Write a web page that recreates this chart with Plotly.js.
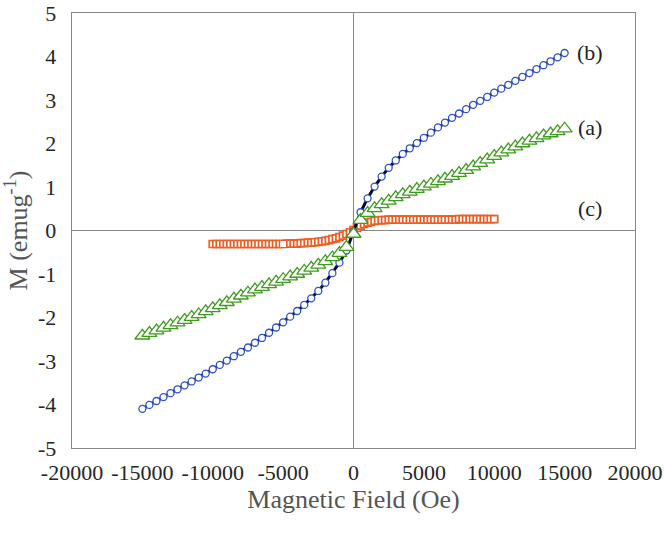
<!DOCTYPE html>
<html>
<head>
<meta charset="utf-8">
<script src="https://cdn.plot.ly/plotly-3.0.1.min.js"></script>
<style>html,body{margin:0;padding:0;background:#fff;}#chart{width:665px;height:534px;}</style>
</head>
<body>
<div id="chart"></div>
<script>
// Magnetic field (Oe) grid for samples (a) and (b)
const fieldAB = [-15000,-14500,-14000,-13500,-13000,-12500,-12000,-11500,-11000,-10500,-10000,-9500,-9000,-8500,-8000,-7500,-7000,-6500,-6000,-5500,-5000,-4500,-4000,-3500,-3000,-2500,-2000,-1500,-1000,-500,0,500,1000,1500,2000,2500,3000,3500,4000,4500,5000,5500,6000,6500,7000,7500,8000,8500,9000,9500,10000,10500,11000,11500,12000,12500,13000,13500,14000,14500,15000];
// Sample (b): blue circles
const magB = [-4.10,-4.01,-3.92,-3.83,-3.74,-3.65,-3.56,-3.47,-3.38,-3.29,-3.19,-3.09,-2.99,-2.89,-2.79,-2.69,-2.58,-2.47,-2.35,-2.23,-2.11,-1.98,-1.85,-1.71,-1.56,-1.39,-1.20,-0.98,-0.74,-0.46,-0.02,0.42,0.74,1.01,1.24,1.44,1.61,1.76,1.89,2.01,2.13,2.25,2.37,2.48,2.59,2.69,2.79,2.89,2.98,3.07,3.17,3.26,3.35,3.44,3.53,3.62,3.71,3.80,3.89,3.98,4.08];
// Sample (a): green triangles
const magA = [-2.42,-2.36,-2.30,-2.24,-2.18,-2.12,-2.06,-1.99,-1.93,-1.86,-1.79,-1.72,-1.65,-1.57,-1.50,-1.43,-1.36,-1.30,-1.24,-1.18,-1.12,-1.06,-1.00,-0.93,-0.86,-0.79,-0.71,-0.62,-0.52,-0.38,-0.08,0.24,0.40,0.51,0.60,0.68,0.76,0.83,0.89,0.95,1.01,1.07,1.13,1.19,1.25,1.32,1.39,1.47,1.55,1.63,1.71,1.79,1.86,1.93,2.00,2.06,2.12,2.18,2.23,2.28,2.34];
// Sample (c): orange squares
const fieldC = [-10000,-9750,-9500,-9250,-9000,-8750,-8500,-8250,-8000,-7750,-7500,-7250,-7000,-6750,-6500,-6250,-6000,-5750,-5500,-5250,-5000,-4750,-4500,-4250,-4000,-3750,-3500,-3250,-3000,-2750,-2500,-2250,-2000,-1750,-1500,-1250,-1000,-750,-500,-250,0,250,500,750,1000,1250,1500,1750,2000,2250,2500,2750,3000,3250,3500,3750,4000,4250,4500,4750,5000,5250,5500,5750,6000,6250,6500,6750,7000,7250,7500,7750,8000,8250,8500,8750,9000,9250,9500,9750,10000];
const magC = [-0.31,-0.31,-0.31,-0.31,-0.31,-0.31,-0.31,-0.31,-0.31,-0.31,-0.31,-0.31,-0.31,-0.31,-0.31,-0.31,-0.31,-0.31,-0.31,-0.31,-0.31,-0.30,-0.30,-0.30,-0.30,-0.29,-0.29,-0.28,-0.28,-0.27,-0.26,-0.25,-0.24,-0.22,-0.20,-0.18,-0.15,-0.12,-0.08,-0.04,0.01,0.06,0.11,0.15,0.18,0.20,0.22,0.23,0.24,0.24,0.25,0.25,0.25,0.25,0.25,0.25,0.25,0.25,0.25,0.25,0.25,0.25,0.25,0.25,0.25,0.25,0.25,0.25,0.25,0.25,0.26,0.26,0.26,0.26,0.26,0.26,0.26,0.26,0.26,0.26,0.26];
const highlightIndexC = 20; // the one open square near -5000 Oe
// Tick labels (plain hyphen minus as in the original)
const xTickVals = [-20000,-15000,-10000,-5000,0,5000,10000,15000,20000];
const xTickText = ['-20000','-15000','-10000','-5000','0','5000','10000','15000','20000'];
const yTickVals = [-5,-4,-3,-2,-1,0,1,2,3,4,5];
const yTickText = ['-5','-4','-3','-2','-1','0','1','2','3','4','5'];
const labelText = ['(b)','(a)','(c)'];
const labelY = [4.1,2.37,0.5];

const serif = 'Liberation Serif, Times New Roman, serif';
const traces = [
  {x: fieldC, y: magC, mode: 'markers', type: 'scatter',
   marker: {symbol: 'square', size: 7, color: '#ffffff', line: {color: '#EE5E22', width: 1.7}}},
  {x: [fieldC[highlightIndexC]], y: [magC[highlightIndexC]], mode: 'markers', type: 'scatter',
   marker: {symbol: 'square', size: 7, color: '#ffffff', line: {color: '#EE5E22', width: 1.2}}},
  {x: fieldAB, y: magB, mode: 'lines+markers', type: 'scatter',
   line: {color: '#0a0a30', width: 3},
   marker: {symbol: 'circle', size: 7, color: '#ffffff', line: {color: '#2F52C9', width: 1.3}}},
  {x: fieldAB, y: magA, mode: 'markers', type: 'scatter',
   marker: {symbol: 'triangle-up', size: 13, color: '#ffffff', line: {color: '#3E9C1E', width: 1.3}}}
];
const annotations = labelText.map((t, i) => ({
  x: 16800, y: labelY[i], xref: 'x', yref: 'y', text: t, showarrow: false,
  font: {family: serif, size: 22, color: '#222'}
}));
const axisCommon = {
  showgrid: false, showline: true, mirror: true, linecolor: '#888', linewidth: 1.3,
  zeroline: true, zerolinecolor: '#888', zerolinewidth: 1.3,
  ticks: 'outside', tickcolor: 'rgba(0,0,0,0)',
  tickmode: 'array', ticklabeloverflow: 'allow',
  tickfont: {family: serif, size: 22, color: '#262626'}
};
const layout = {
  width: 665, height: 534,
  margin: {l: 72, r: 30, t: 13, b: 86},
  paper_bgcolor: '#fff', plot_bgcolor: '#fff',
  showlegend: false,
  xaxis: Object.assign({}, axisCommon, {
    range: [-20000, 20000], tickvals: xTickVals, ticktext: xTickText, ticklen: 4,
    title: {text: 'Magnetic Field (Oe)', font: {family: serif, size: 26, color: '#555'}, standoff: 4}
  }),
  yaxis: Object.assign({}, axisCommon, {
    range: [-5, 5], tickvals: yTickVals, ticktext: yTickText, ticklen: 10,
    title: {text: 'M (emug<sup>-1</sup>)', font: {family: serif, size: 26, color: '#555'}, standoff: 6}
  }),
  annotations: annotations
};
Plotly.newPlot('chart', traces, layout, {displayModeBar: false, staticPlot: true});
</script>
</body>
</html>
